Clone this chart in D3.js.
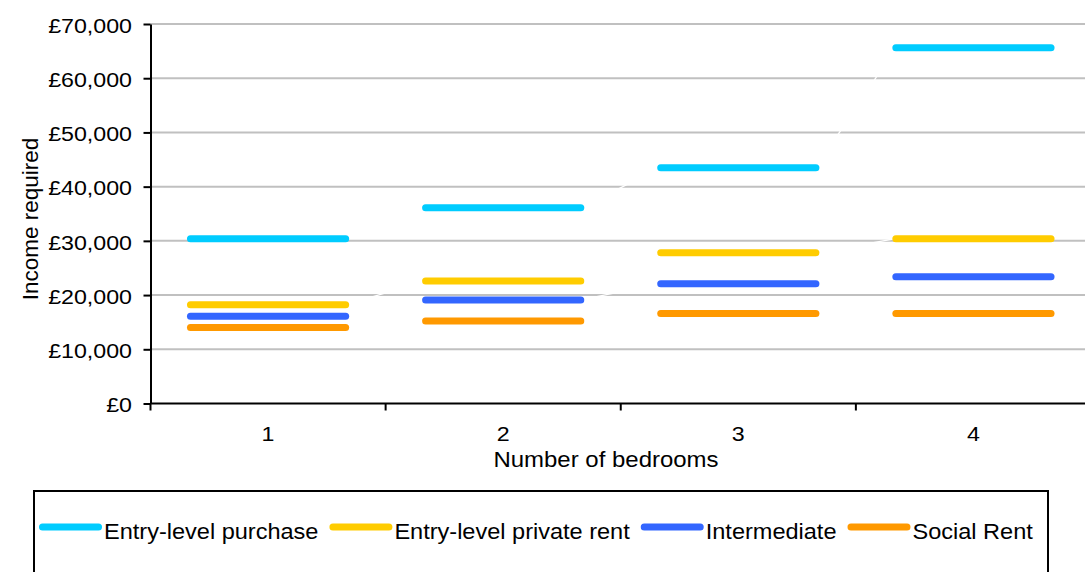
<!DOCTYPE html>
<html>
<head>
<meta charset="utf-8">
<script src="https://cdn.jsdelivr.net/npm/d3@7"></script>
<style>
  html, body { margin: 0; padding: 0; background: #fff; }
  svg { display: block; font-family: "Liberation Sans", Arial, sans-serif; }
</style>
</head>
<body>
<svg id="chart" width="1085" height="572"></svg>
<script>
// Income needed to afford each housing option, by number of bedrooms
const categories = ["1", "2", "3", "4"];
const entryPurchase = [30400, 36100, 43500, 65600];
const entryPrivateRent = [18200, 22600, 27800, 30400];
const intermediate = [16100, 19100, 22100, 23400];
const socialRent = [14000, 15200, 16600, 16600];
const yTicks = [0, 10000, 20000, 30000, 40000, 50000, 60000, 70000];

const seriesNames = ["Entry-level purchase", "Entry-level private rent", "Intermediate", "Social Rent"];
const seriesValues = [entryPurchase, entryPrivateRent, intermediate, socialRent];
const seriesColors = ["#00CCFF", "#FFCC00", "#3366FF", "#FF9900"];

const series = seriesNames.map((name, i) => ({
  name, color: seriesColors[i], values: seriesValues[i]
}));

const svg = d3.select("#chart");
const plotLeft = 150.5, plotRight = 1091, plotTop = 24, plotBottom = 403.5;

const x = d3.scaleBand().domain(categories).range([plotLeft, plotRight]).padding(0);
const y = d3.scaleLinear().domain([0, 70000]).range([plotBottom, plotTop]);
const half = x.bandwidth() * 0.33;
const cx = c => x(c) + x.bandwidth() / 2;

const fmt = v => "£" + d3.format(",")(v);

// horizontal gridlines
svg.append("g")
  .selectAll("line")
  .data(yTicks.filter(t => t > 0))
  .join("line")
  .attr("x1", plotLeft).attr("x2", plotRight)
  .attr("y1", d => y(d)).attr("y2", d => y(d))
  .attr("stroke", "#c0c0c0").attr("stroke-width", 2);

// thin white connectors between consecutive categories
series.forEach(s => {
  const pts = [];
  categories.forEach((c, i) => {
    pts.push([cx(c) - half, y(s.values[i])]);
    pts.push([cx(c) + half, y(s.values[i])]);
  });
  const conn = [];
  for (let i = 1; i < pts.length - 1; i += 2) conn.push([pts[i], pts[i + 1]]);
  svg.append("g")
    .selectAll("line")
    .data(conn)
    .join("line")
    .attr("x1", d => d[0][0]).attr("y1", d => d[0][1])
    .attr("x2", d => d[1][0]).attr("y2", d => d[1][1])
    .attr("stroke", "#ffffff").attr("stroke-width", 1.3);
});

// thick level segments, one per series and bedroom count
series.forEach(s => {
  svg.append("g")
    .selectAll("line")
    .data(categories.map((c, i) => ({ c, v: s.values[i] })))
    .join("line")
    .attr("x1", d => cx(d.c) - half).attr("x2", d => cx(d.c) + half)
    .attr("y1", d => y(d.v)).attr("y2", d => y(d.v))
    .attr("stroke", s.color).attr("stroke-width", 7)
    .attr("stroke-linecap", "round");
});

// y axis
const tickStretch = 1.19;
const yAxis = svg.append("g")
  .attr("transform", `translate(${plotLeft},0)`)
  .call(d3.axisLeft(y).tickValues(yTicks).tickFormat(fmt).tickSizeInner(7).tickSizeOuter(0));
yAxis.select(".domain").attr("stroke", "#000").attr("stroke-width", 2);
yAxis.selectAll(".tick line").attr("stroke", "#000").attr("stroke-width", 2);
yAxis.selectAll(".tick text")
  .attr("font-size", "19.5px")
  .attr("font-family", "Liberation Sans, Arial, sans-serif")
  .attr("fill", "#000")
  .attr("x", -18.5 / tickStretch)
  .attr("dy", "0.42em")
  .attr("transform", `scale(${tickStretch},1)`);

// x axis: labels at band centres, ticks at band edges
const xAxis = svg.append("g").attr("transform", `translate(0,${plotBottom})`);
xAxis.append("line")
  .attr("x1", plotLeft).attr("x2", plotRight)
  .attr("stroke", "#000").attr("stroke-width", 2);
xAxis.selectAll(".edge")
  .data(categories.map(c => x(c)).concat([plotRight]))
  .join("line")
  .attr("class", "edge")
  .attr("x1", d => d).attr("x2", d => d)
  .attr("y1", 0).attr("y2", 7)
  .attr("stroke", "#000").attr("stroke-width", 2);
xAxis.selectAll(".lbl")
  .data(categories)
  .join("text")
  .attr("class", "lbl")
  .attr("text-anchor", "middle")
  .attr("font-size", "19.5px")
  .attr("transform", d => `translate(${cx(d)},37) scale(${tickStretch},1)`)
  .text(d => d);

// axis titles
svg.append("text")
  .attr("text-anchor", "middle")
  .attr("font-size", "22px")
  .attr("transform", "translate(606,467.3) scale(1.09,1)")
  .text("Number of bedrooms");

svg.append("text")
  .attr("text-anchor", "middle")
  .attr("font-size", "22.5px")
  .attr("transform", "translate(37.7,219) rotate(-90)")
  .text("Income required");

// legend
const legend = svg.append("g");
legend.append("rect")
  .attr("x", 34).attr("y", 491)
  .attr("width", 1014).attr("height", 120)
  .attr("fill", "none").attr("stroke", "#000").attr("stroke-width", 2);

const legendStretch = 1.07;
let lx = 39;
series.forEach(s => {
  legend.append("line")
    .attr("x1", lx + 3.5).attr("x2", lx + 59.5)
    .attr("y1", 527).attr("y2", 527)
    .attr("stroke", s.color).attr("stroke-width", 7)
    .attr("stroke-linecap", "round");
  const t = legend.append("text")
    .attr("font-size", "22px")
    .attr("transform", `translate(${lx + 65},539) scale(${legendStretch},1)`)
    .text(s.name);
  const w = t.node().getComputedTextLength() * legendStretch;
  lx = lx + 65 + w + 11;
});
</script>
</body>
</html>
